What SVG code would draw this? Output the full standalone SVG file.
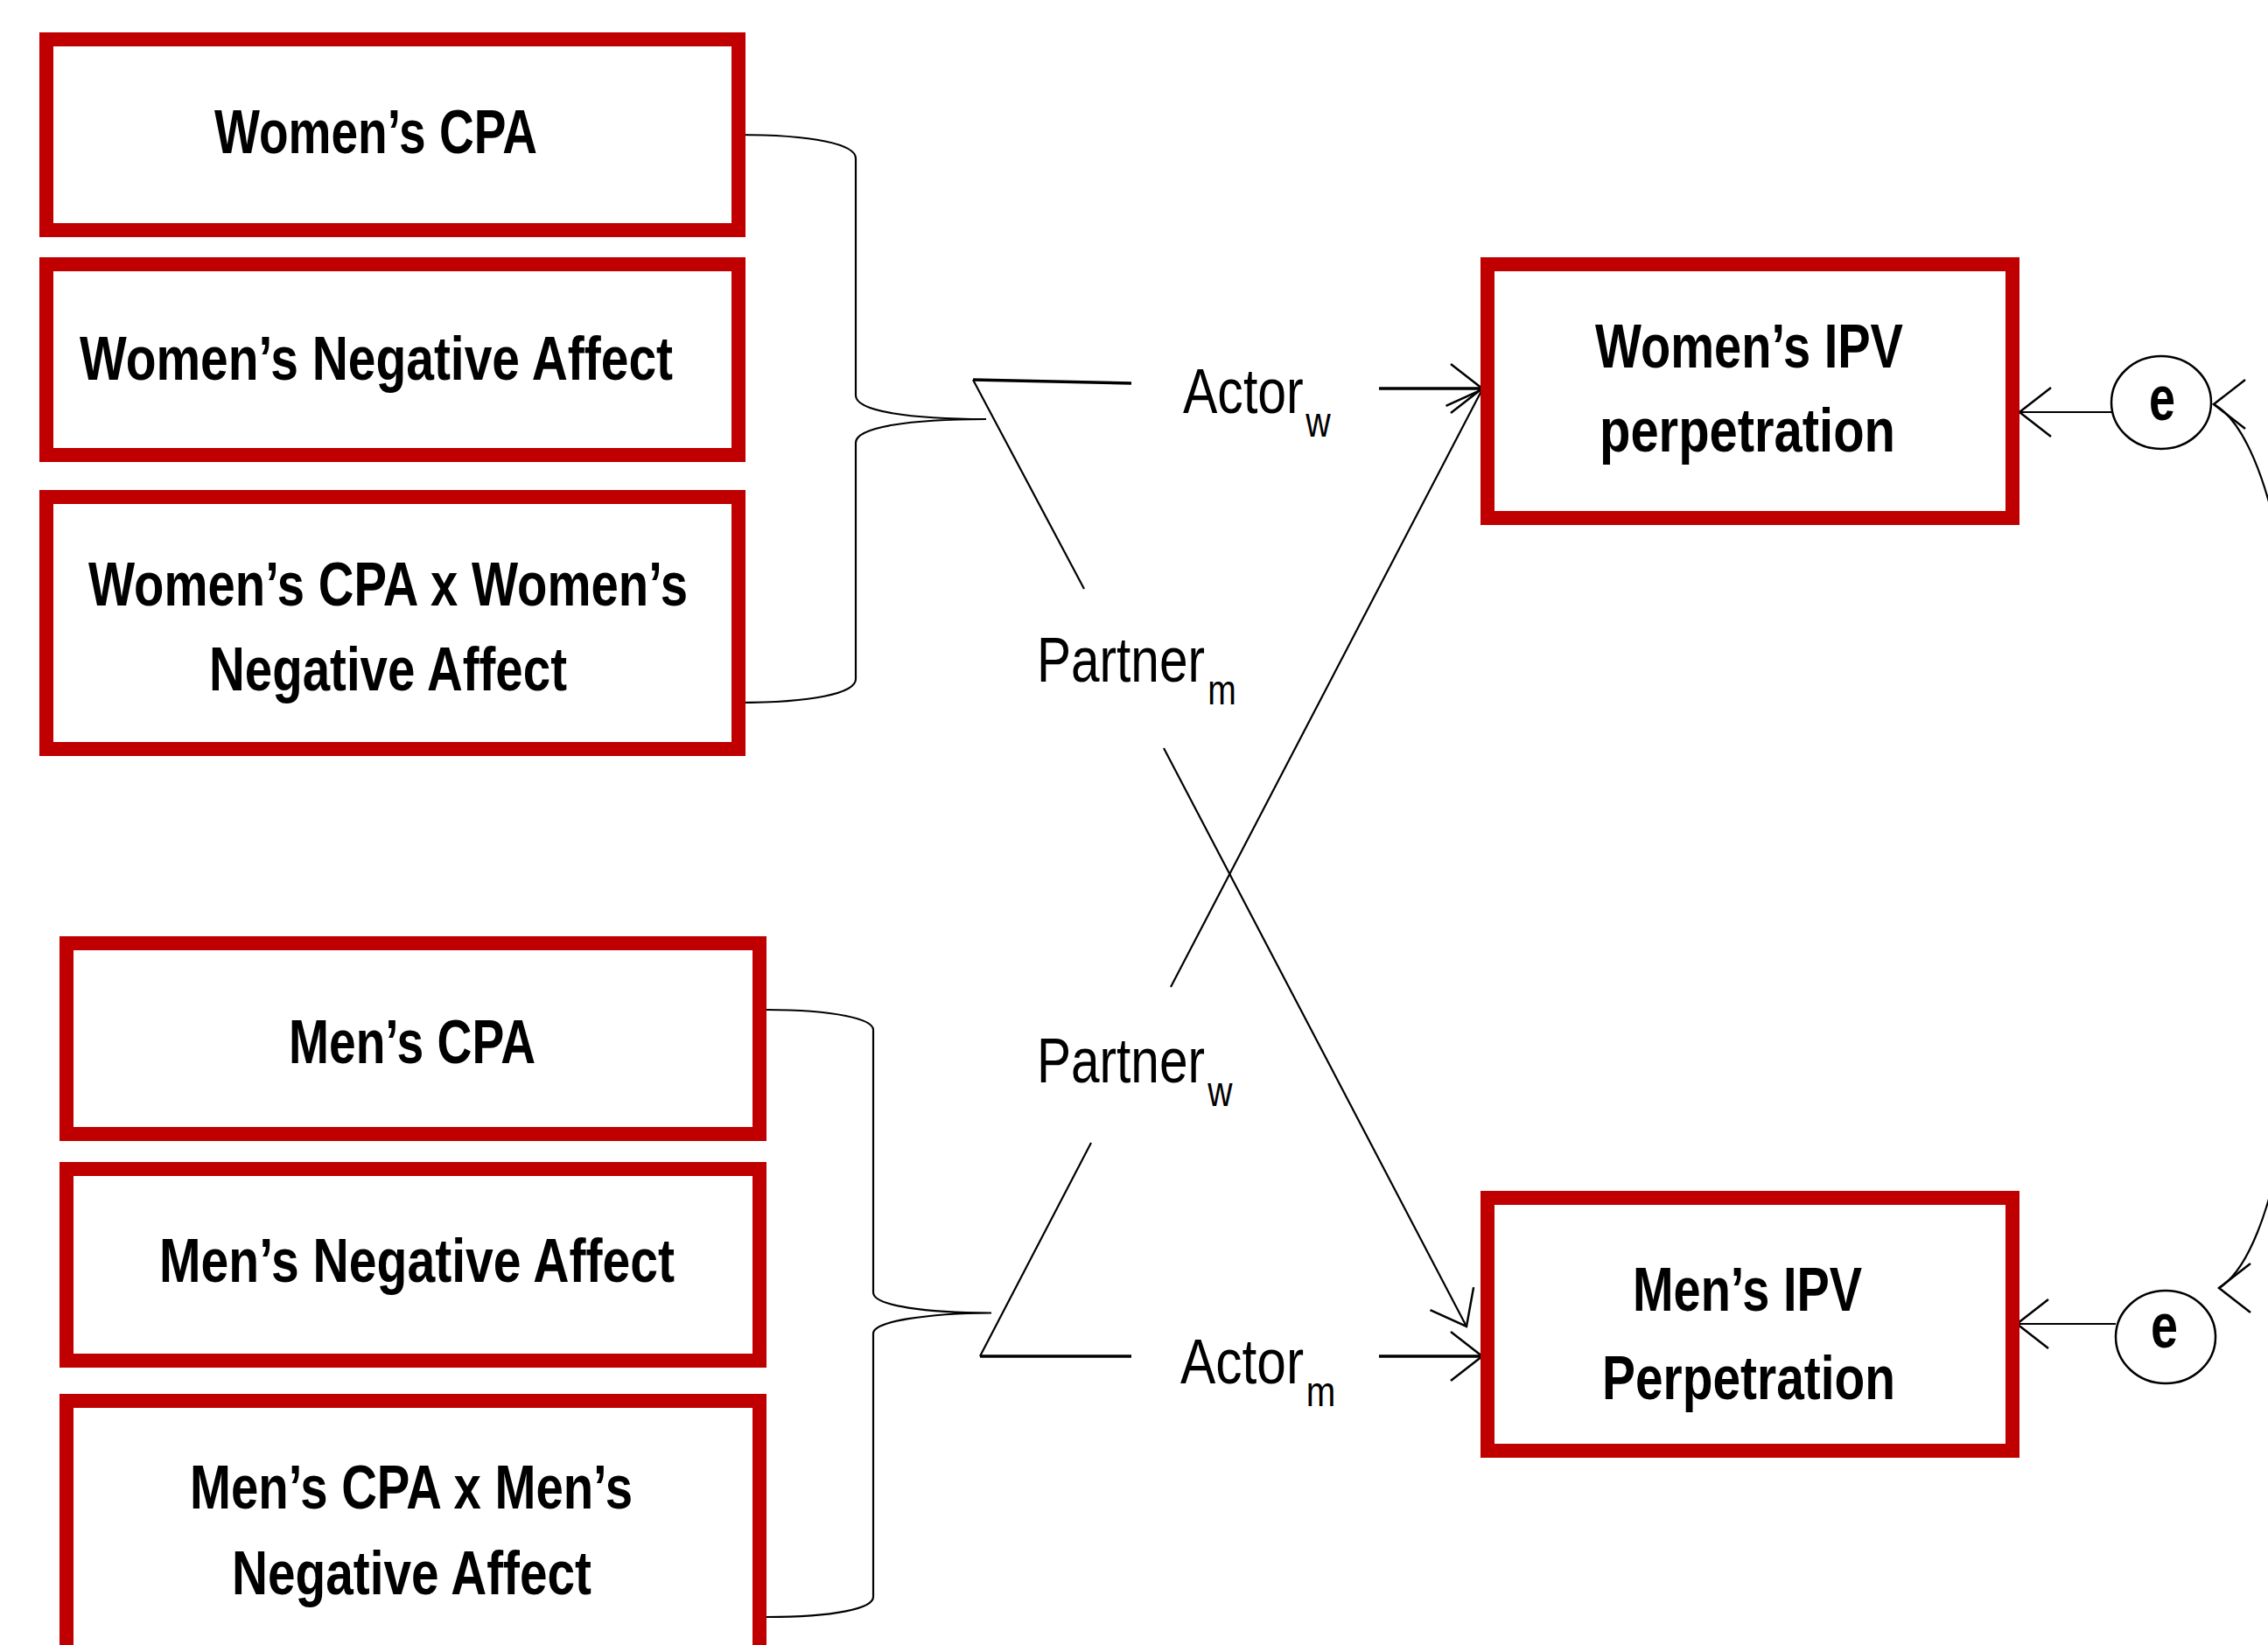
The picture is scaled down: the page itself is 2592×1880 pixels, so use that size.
<svg xmlns="http://www.w3.org/2000/svg" width="2592" height="1880" viewBox="0 0 2592 1880">
<style>
.box { fill: #ffffff; stroke: #C00000; stroke-width: 16; }
.lbl { font-family: "Liberation Sans", Arial, sans-serif; font-weight: bold; font-size: 70px; fill: #000; }
.plbl { font-family: "Liberation Sans", Arial, sans-serif; font-size: 72px; fill: #000; }
.sub { font-size: 48px; }
.elbl { font-family: "Liberation Sans", Arial, sans-serif; font-weight: bold; font-size: 72px; fill: #000; }
.ell { fill: #ffffff; stroke: #000; stroke-width: 2.5; }
.ln { fill: none; stroke: #000; stroke-width: 2.2; }
.thk { fill: none; stroke: #000; stroke-width: 3.5; }
.arr { marker-end: url(#open); }
</style>
<defs>
<marker id="open" markerUnits="userSpaceOnUse" orient="auto" refX="0" refY="0" markerWidth="80" markerHeight="80" overflow="visible">
<path d="M -36 -28 L 0 0 L -36 28" fill="none" stroke="#000" stroke-width="2.5"/>
</marker>
<marker id="openLeft" markerUnits="userSpaceOnUse" orient="180" refX="0" refY="0" markerWidth="80" markerHeight="80" overflow="visible">
<path d="M -36 -28 L 0 0 L -36 28" fill="none" stroke="#000" stroke-width="2.5"/>
</marker>
</defs>
<rect width="2592" height="1880" fill="#ffffff"/>

<g id="connectors">
<path class="ln" d="M 843 154 C 930 154, 978 165, 978 181 L 978 452 C 978 470, 1040 479, 1127 479 M 1127 479 C 1040 479, 978 488, 978 506 L 978 776 C 978 792, 930 803, 843 803"/>
<path class="ln" d="M 876 1154 C 955 1154, 998 1165, 998 1177 L 998 1477 C 998 1493, 1060 1500, 1133 1500.5 M 1133 1500.5 C 1060 1501, 998 1510, 998 1524 L 998 1825 C 998 1838, 955 1848, 876 1848"/>
<path class="thk" d="M 1293 438 L 1112 434"/>
<path class="ln" d="M 1112 434 L 1239 673"/>
<path class="thk" d="M 1293 1550 L 1120 1550"/>
<path class="ln" d="M 1120 1550 L 1247 1306"/>
<path class="thk arr" d="M 1576 444 L 1694 444"/>
<path class="thk arr" d="M 1576 1550 L 1694 1550"/>
<path class="ln arr" d="M 1338 1128 L 1694 445"/>
<path class="ln arr" d="M 1330 855 L 1676 1516"/>
<path class="ln arr" d="M 2413 471 L 2308 471"/>
<path class="ln arr" d="M 2418 1513 L 2305 1513"/>
<path class="ln" d="M 2530 462 C 2670 540, 2670 1390, 2536 1472" marker-start="url(#openLeft)" marker-end="url(#openLeft)"/>
</g>

<g id="women-cpa">
<rect class="box" x="53" y="45" width="791" height="218"/>
<text class="lbl" x="245" y="175" textLength="369" lengthAdjust="spacingAndGlyphs">Women’s CPA</text>
</g>
<g id="women-na">
<rect class="box" x="53" y="302" width="791" height="218"/>
<text class="lbl" x="91" y="434" textLength="678" lengthAdjust="spacingAndGlyphs">Women’s Negative Affect</text>
</g>
<g id="women-cpa-x-na">
<rect class="box" x="53" y="568" width="791" height="288"/>
<text class="lbl" x="101" y="692" textLength="685" lengthAdjust="spacingAndGlyphs">Women’s CPA x Women’s</text>
<text class="lbl" x="239" y="789" textLength="409" lengthAdjust="spacingAndGlyphs">Negative Affect</text>
</g>

<g id="men-cpa">
<rect class="box" x="76" y="1078" width="792" height="218"/>
<text class="lbl" x="330" y="1215" textLength="282" lengthAdjust="spacingAndGlyphs">Men’s CPA</text>
</g>
<g id="men-na">
<rect class="box" x="76" y="1336" width="792" height="219"/>
<text class="lbl" x="182" y="1465" textLength="589" lengthAdjust="spacingAndGlyphs">Men’s Negative Affect</text>
</g>
<g id="men-cpa-x-na">
<rect class="box" x="76" y="1601" width="792" height="340"/>
<text class="lbl" x="217" y="1724" textLength="506" lengthAdjust="spacingAndGlyphs">Men’s CPA x Men’s</text>
<text class="lbl" x="265" y="1822" textLength="411" lengthAdjust="spacingAndGlyphs">Negative Affect</text>
</g>

<g id="women-ipv">
<rect class="box" x="1700" y="302" width="600" height="290"/>
<text class="lbl" x="1823" y="420" textLength="352" lengthAdjust="spacingAndGlyphs">Women’s IPV</text>
<text class="lbl" x="1828" y="516" textLength="338" lengthAdjust="spacingAndGlyphs">perpetration</text>
</g>
<g id="men-ipv">
<rect class="box" x="1700" y="1369" width="600" height="289"/>
<text class="lbl" x="1866" y="1498" textLength="262" lengthAdjust="spacingAndGlyphs">Men’s IPV</text>
<text class="lbl" x="1831" y="1599" textLength="335" lengthAdjust="spacingAndGlyphs">Perpetration</text>
</g>

<g id="e-women">
<ellipse class="ell" cx="2470" cy="460" rx="57" ry="53"/>
<text class="elbl" x="2456" y="480" textLength="30" lengthAdjust="spacingAndGlyphs">e</text>
</g>
<g id="e-men">
<ellipse class="ell" cx="2475" cy="1528" rx="57" ry="53"/>
<text class="elbl" x="2458" y="1540" textLength="31" lengthAdjust="spacingAndGlyphs">e</text>
</g>

<g id="label-actor-w">
<text class="plbl" transform="translate(1352 472) scale(0.82 1)">Actor<tspan class="sub" dx="3" dy="27">w</tspan></text>
</g>
<g id="label-partner-m">
<text class="plbl" transform="translate(1185 779) scale(0.813 1)">Partner<tspan class="sub" dx="4" dy="26">m</tspan></text>
</g>
<g id="label-partner-w">
<text class="plbl" transform="translate(1185 1237) scale(0.813 1)">Partner<tspan class="sub" dx="4" dy="27">w</tspan></text>
</g>
<g id="label-actor-m">
<text class="plbl" transform="translate(1349 1581) scale(0.84 1)">Actor<tspan class="sub" dx="3" dy="26">m</tspan></text>
</g>
</svg>
